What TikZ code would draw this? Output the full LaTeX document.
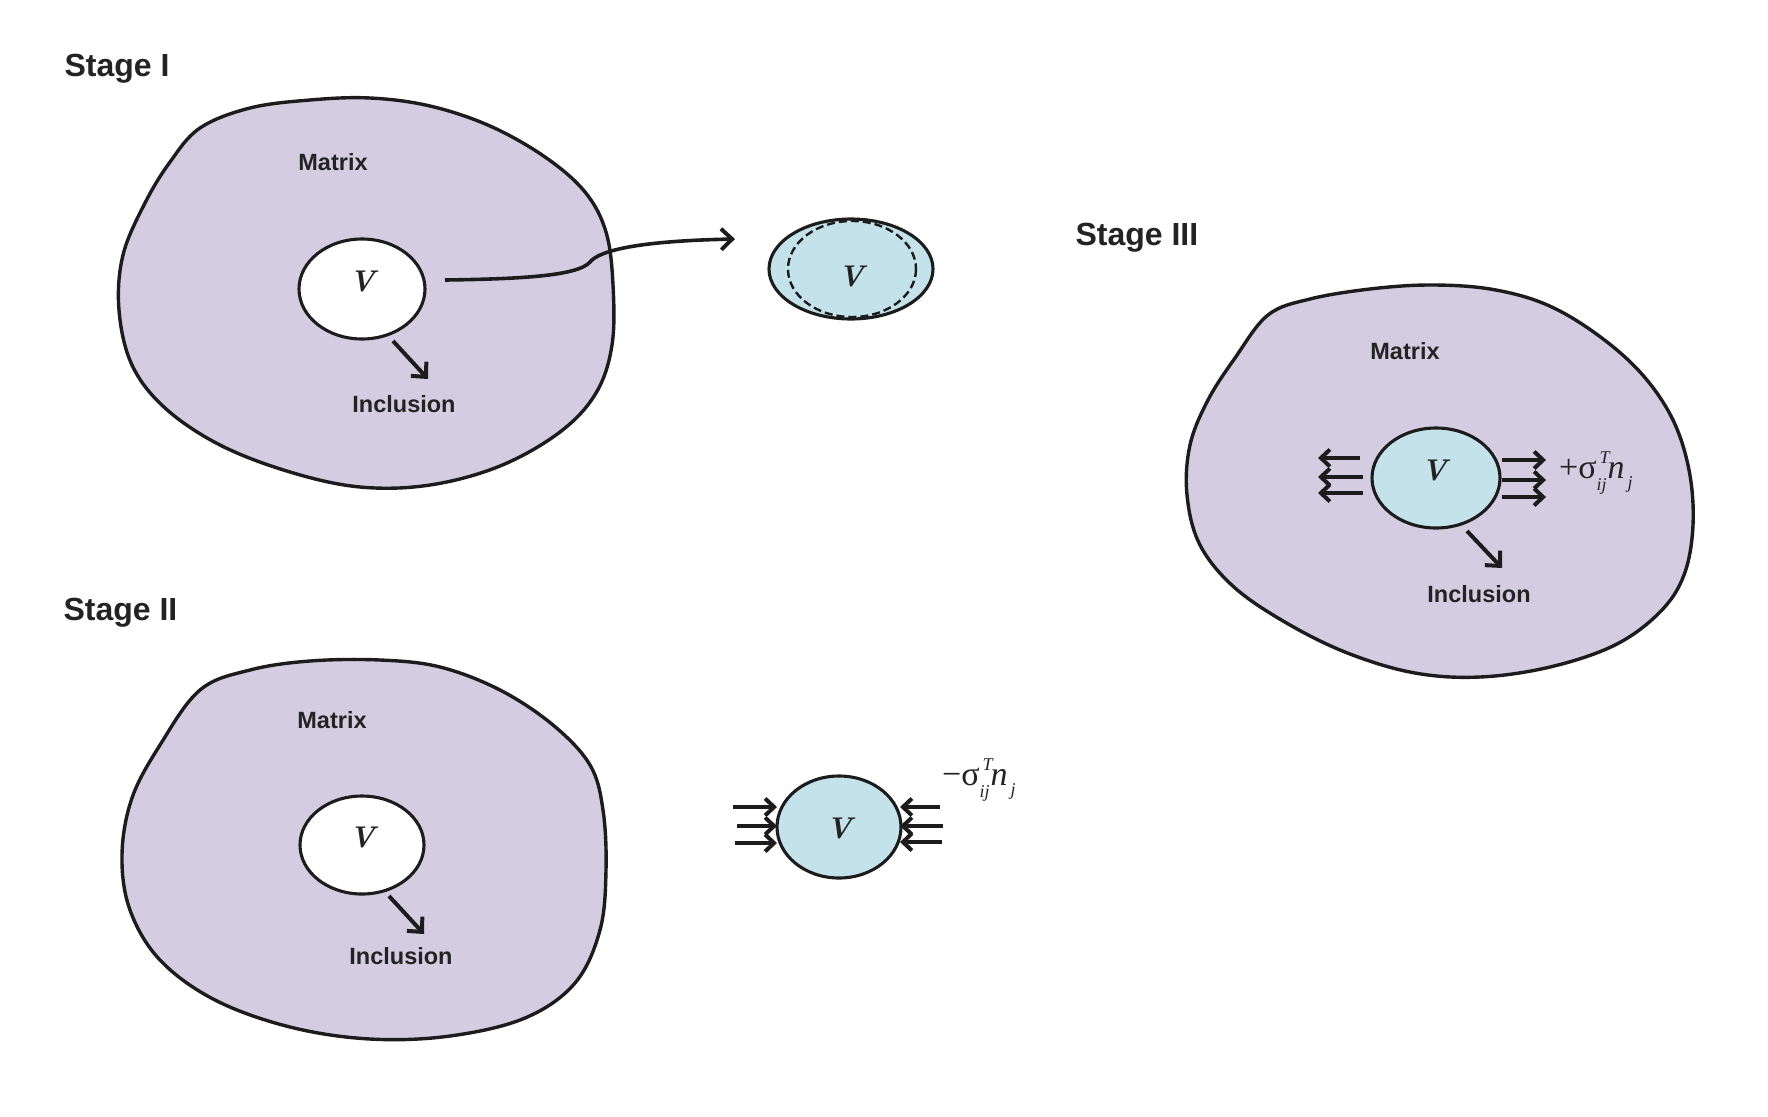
\documentclass[tikz,border=0pt]{standalone}
\usepackage{fontspec}
\newfontfamily\lsans{Liberation Sans}
\newfontfamily\lserif{Liberation Serif}
\usetikzlibrary{arrows.meta,shapes.geometric}
\definecolor{matrixfill}{RGB}{212,205,226}
\definecolor{inclfill}{RGB}{196,226,234}
\definecolor{ink}{RGB}{28,28,28}
\definecolor{txt}{RGB}{35,35,35}
\newcommand{\sig}[1]{{\lserif\fontsize{34}{34}\selectfont #1σ\rlap{\raisebox{15pt}{\fontsize{18}{18}\selectfont\itshape\,T}}\raisebox{-12pt}{\fontsize{18}{18}\selectfont\itshape ij}\kern1pt\itshape n\raisebox{-10pt}{\fontsize{18}{18}\selectfont\itshape\,j}}}
\begin{document}
\begin{tikzpicture}[x=1pt,y=-1pt,
  blob/.style={draw=ink,line width=3.4pt,fill=matrixfill,line join=round},
  hole/.style={ellipse,draw=ink,line width=3.1pt,fill=white,inner sep=0pt},
  incl/.style={ellipse,draw=ink,line width=3.1pt,fill=inclfill,inner sep=0pt},
  stagelbl/.style={anchor=base west,text=txt,font=\lsans\bfseries\fontsize{32}{32}\selectfont},
  lbl/.style={text=txt,font=\lsans\bfseries\fontsize{23.5}{24}\selectfont},
  vlbl/.style={text=txt,font=\bfseries\itshape\fontsize{30}{30}\selectfont},
  arr/.style={draw=ink,line width=4pt,-{Straight Barb[length=9pt,width=17pt,line width=4pt]}},
  bigarr/.style={draw=ink,line width=4pt,-{Straight Barb[length=11pt,width=21pt,line width=4pt]}}]
\fill[white] (0,0) rectangle (1768,1116);
\useasboundingbox (0,0) rectangle (1768,1116);

% ---------- Stage I ----------
\node[stagelbl] (s1) at (61,77) {Stage I};
\path[blob] plot[smooth cycle,tension=0.6] coordinates {
 (200,128) (250,108) (310,100) (370,98) (430,106) (490,126) (545,157) (585,192)
 (606,232) (613,285) (612,345) (596,393) (560,432) (500,466) (430,485) (360,487)
 (290,472) (220,445) (165,408) (132,365) (119,310) (123,255) (145,203) (170,162)};
\node[lbl] (m1) at (333,162) {Matrix};
\node[hole,minimum width=126pt,minimum height=100pt] (v1) at (362,289) {};
\node[vlbl] at (362,281) {V};
\node[lbl] (i1) at (404,404) {Inclusion};
\coordinate (a1s) at (393,341);
\coordinate (a1e) at (428,379);
\draw[bigarr] (a1s) -- (a1e);

% free inclusion (stage I)
\node[incl,minimum width=164pt,minimum height=100pt] (f1) at (851,269) {};
\draw[ink,line width=2.4pt,dash pattern=on 8pt off 4pt] (852,269) ellipse [x radius=64,y radius=48];
\node[vlbl] at (851,276) {V};
\coordinate (c1s) at (445,280);
\coordinate (c1e) at (735,239);
\draw[bigarr,line width=3.6pt] (c1s) .. controls (520,279) and (578,276) .. (590,262)
  .. controls (600,250) and (640,241) .. (c1e);

% ---------- Stage II ----------
\node[stagelbl] (s2) at (60,620) {Stage II};
\path[blob] plot[smooth cycle,tension=0.6] coordinates {
 (200,690) (250,670) (310,661) (380,660) (440,667) (500,690) (553,725) (590,765)
 (603,810) (606,870) (600,930) (575,983) (525,1018) (450,1036) (370,1039) (290,1027)
 (215,1000) (160,960) (130,910) (122,855) (132,798) (160,745)};
\node[lbl] (m2) at (332,720) {Matrix};
\node[hole,minimum width=124pt,minimum height=98pt] (v2) at (362,845) {};
\node[vlbl] at (362,837) {V};
\node[lbl] (i2) at (401,956) {Inclusion};
\coordinate (a2s) at (389,896);
\coordinate (a2e) at (424,934);
\draw[bigarr] (a2s) -- (a2e);

% free inclusion with tractions
\node[incl,minimum width=124pt,minimum height=102pt] (f2) at (839,827) {};
\node[vlbl] at (839,828) {V};
\foreach \y/\xs in {807/733,826/737,843/735}{
  \coordinate (l\y) at (\xs,\y);
  \coordinate (le\y) at (777,\y);
  \draw[arr] (l\y) -- (le\y);}
\foreach \y/\xs in {807/940,826/943,842/942}{
  \coordinate (r\y) at (\xs,\y);
  \coordinate (re\y) at (900,\y);
  \draw[arr] (r\y) -- (re\y);}
\node[anchor=base west,inner sep=0pt,text=txt] (t2) at (942,785) {\sig{−}};

% ---------- Stage III ----------
\node[stagelbl] (s3) at (1072,245) {Stage III};
\path[blob] plot[smooth cycle,tension=0.6] coordinates {
 (1268,315) (1310,299) (1370,289) (1430,285) (1490,289) (1545,304) (1595,333) (1640,372)
 (1672,418) (1689,470) (1693,525) (1684,575) (1660,612) (1615,645) (1550,667) (1480,677)
 (1415,673) (1350,654) (1290,625) (1235,588) (1200,545) (1187,495) (1190,445) (1208,400)
 (1235,358)};
\node[lbl] (m3) at (1405,351) {Matrix};
\node[incl,minimum width=128pt,minimum height=100pt] (v3) at (1436,478) {};
\node[vlbl] at (1434,470) {V};
\node[lbl] (i3) at (1479,594) {Inclusion};
\coordinate (a3s) at (1467,531);
\coordinate (a3e) at (1502,568);
\draw[bigarr] (a3s) -- (a3e);
\foreach \y/\xs in {458/1360,477/1363,493/1363}{
  \coordinate (p\y) at (\xs,\y);
  \coordinate (pe\y) at (1318,\y);
  \draw[arr] (p\y) -- (pe\y);}
\foreach \y in {460,480,497}{
  \coordinate (q\y) at (1502,\y);
  \coordinate (qe\y) at (1546,\y);
  \draw[arr] (q\y) -- (qe\y);}
\node[anchor=base west,inner sep=0pt,text=txt] (t3) at (1559,478) {\sig{+}};
\end{tikzpicture}
\end{document}
